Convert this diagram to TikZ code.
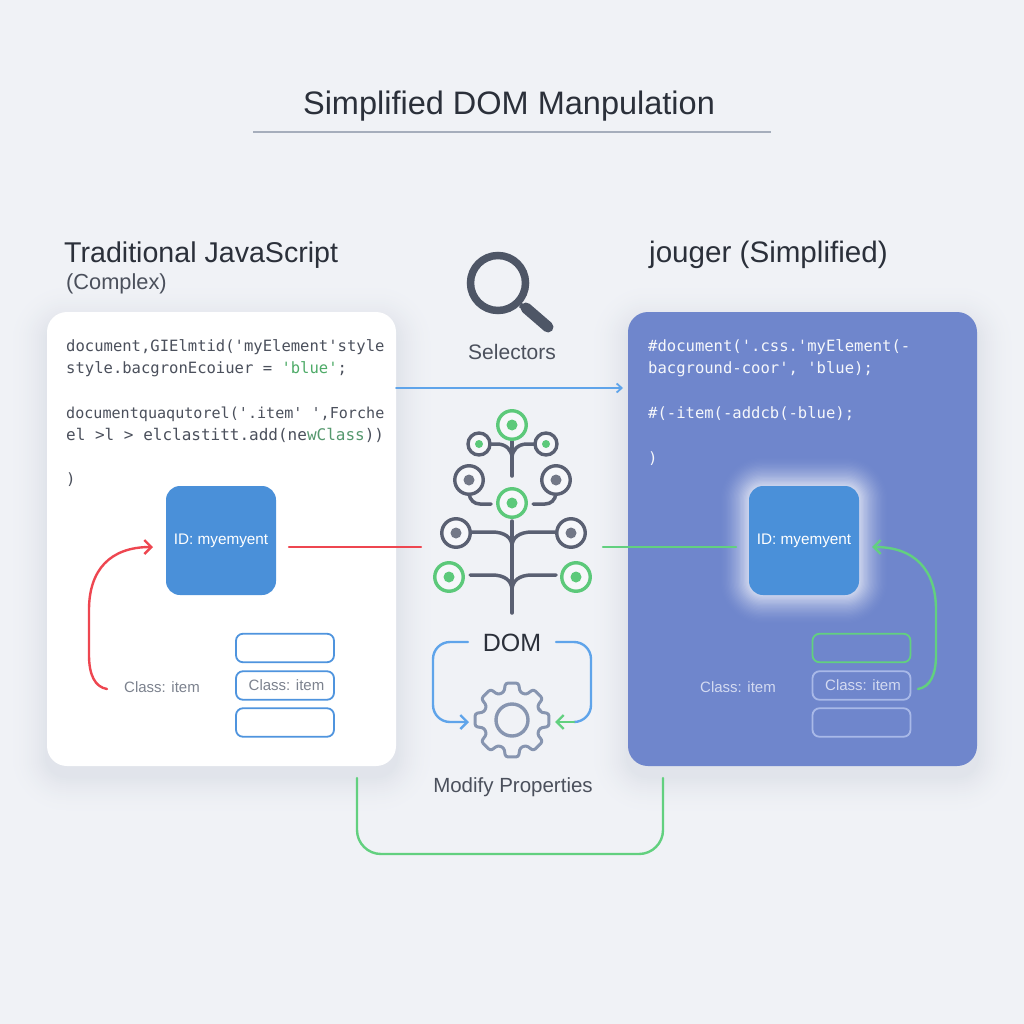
\documentclass[tikz,border=0pt]{standalone}
\usepackage{fontspec}
\setmainfont{Liberation Sans}
\newfontfamily\codefont{DejaVu Sans Mono}
\usetikzlibrary{arrows.meta,calc}
\definecolor{bgc}{HTML}{F0F2F6}
\definecolor{panelblue}{HTML}{6F86CC}
\definecolor{idblue}{HTML}{4A90D9}
\definecolor{inkc}{HTML}{2B303A}
\definecolor{codec}{HTML}{4B505C}
\definecolor{graytext}{HTML}{7C828E}
\definecolor{treegray}{HTML}{5A6072}
\definecolor{treegreen}{HTML}{5CC97A}
\definecolor{linegreen}{HTML}{62D07F}
\definecolor{lineblue}{HTML}{5FA4EA}
\definecolor{linered}{HTML}{EE4650}
\definecolor{gearc}{HTML}{8795B0}
\definecolor{boxblue}{HTML}{4F94DE}
\definecolor{paleline}{HTML}{A9B9E8}
\definecolor{paletext}{HTML}{D3DAF1}
\definecolor{titleline}{HTML}{A6AEBC}
\definecolor{lensc}{HTML}{4E5666}
\definecolor{shadowc}{HTML}{5A6A8C}
\tikzset{
  x=1pt,y=-1pt,
  heading/.style={anchor=base west,inner sep=0pt,text=inkc,font=\fontsize{28.6}{34}\selectfont},
  subheading/.style={anchor=base west,inner sep=0pt,text=codec,font=\fontsize{21.8}{26}\selectfont},
  centerlabel/.style={inner sep=0pt,text=codec,font=\fontsize{21}{25}\selectfont},
  codeline/.style={anchor=base west,inner sep=0pt,text=codec,font=\codefont\fontsize{15.55}{19}\selectfont},
  codewhite/.style={codeline,text=white!93!panelblue},
  idbox/.style={minimum width=110pt,minimum height=109pt,inner sep=0pt,rounded corners=14pt,fill=idblue,text=white,font=\fontsize{15.3}{18}\selectfont},
  itembox/.style={minimum width=98pt,minimum height=28.5pt,inner sep=0pt,rounded corners=7pt,draw=boxblue,line width=1.8pt,fill=white,text=graytext,font=\fontsize{15}{18}\selectfont},
  paleitem/.style={itembox,draw=paleline,fill=none,text=paletext},
  classlabel/.style={inner sep=0pt,text=graytext,font=\fontsize{15}{18}\selectfont},
  ring/.style={circle,inner sep=0pt,draw=#1,line width=3.4pt,fill=bgc!60!white},
  bigring/.style={ring=#1,minimum size=28.5pt},
  smallring/.style={ring=#1,minimum size=22pt},
  dotc/.style={circle,inner sep=0pt,fill=#1,minimum size=11pt},
  smalldot/.style={circle,inner sep=0pt,fill=#1,minimum size=8pt},
  branch/.style={draw=treegray,line width=3.5pt,line cap=round},
  link/.style={line width=2.4pt,line cap=round},
  tip/.style={-{Straight Barb[length=7pt,width=14pt,line width=2.4pt]}}
}
\begin{document}
\begin{tikzpicture}
\useasboundingbox (0,0) rectangle (1024,1024);
\fill[bgc] (0,0) rectangle (1024,1024);
% title
\node[inner sep=0pt,text=inkc,font=\fontsize{32.5}{38}\selectfont] (title) at (509,106) {Simplified DOM Manpulation};
\coordinate (ruleL) at (253,132);
\coordinate (ruleR) at (771,132);
\draw[titleline,line width=1.6pt] (ruleL) -- (ruleR);
% panel shadows: opaque layers, outermost first
\foreach \k in {20,19,...,1}{
  \pgfmathsetmacro{\mixv}{10*((21-\k)/20)^2}
  \colorlet{layerc}{shadowc!\mixv!bgc}
  \fill[layerc,rounded corners=20pt+2*\k] (47-2*\k,322-2*\k) rectangle (396+2*\k,776+2*\k);
  \fill[layerc,rounded corners=20pt+2*\k] (628-2*\k,322-2*\k) rectangle (977+2*\k,776+2*\k);
}
% panels
\node[heading] (hl) at (64,262) {Traditional JavaScript};
\node[subheading] (hl2) at (66,289) {(Complex)};
\node[heading,font=\fontsize{29.6}{34}\selectfont] (hr) at (649,262) {jouger (Simplified)};
\node[inner sep=0pt,minimum width=349pt,minimum height=454pt,rounded corners=20pt,fill=white] (panelL) at (221.5,539) {};
\node[inner sep=0pt,minimum width=349pt,minimum height=454pt,rounded corners=20pt,fill=panelblue] (panelR) at (802.5,539) {};
% code left
\node[codeline] (c1) at (66,351) {document,GIElmtid('myElement'style};
\node[codeline] (c2) at (66,373) {style.bacgronEcoiuer = \textcolor{treegreen!85!black}{'blue'};};
\node[codeline,font=\codefont\fontsize{15.1}{19}\selectfont] (c3) at (66,418) {documentquaqutorel('.item' ',Forche};
\node[codeline,font=\codefont\fontsize{16}{19}\selectfont] (c4) at (66,440) {el >l > elclastitt.add(ne\textcolor{treegreen!60!codec}{wClass}))};
\node[codeline] (c5) at (66,484) {)};
% code right
\node[codewhite] (d1) at (648,351) {\#document('.css.'myElement(-};
\node[codewhite] (d2) at (648,373) {bacground-coor', 'blue);};
\node[codewhite] (d3) at (648,418) {\#(-item(-addcb(-blue);};
\node[codewhite] (d4) at (648,463) {)};
% glow: opaque layers, outermost first
\foreach \k in {22,21,...,1}{
  \pgfmathsetmacro{\mixv}{62*((23-\k)/22)^1.6}
  \colorlet{layerc}{white!\mixv!panelblue}
  \fill[layerc,rounded corners=14pt+1.3*\k] (749-1.3*\k,486-1.3*\k) rectangle (859+1.3*\k,595+1.3*\k);
}
% id boxes
\node[idbox] (idL) at (221,540.5) {\raisebox{-3pt}{ID: myemyent}};
\node[idbox] (idR) at (804,540.5) {\raisebox{-3pt}{ID: myemyent}};
% item boxes
\node[itembox] (l1) at (285,648) {};
\node[itembox] (l2) at (285,685.5) {\hspace{3pt}\raisebox{-1pt}{Class: item}};
\node[itembox] (l3) at (285,722.5) {};
\node[paleitem,draw=linegreen] (r1) at (861.5,648) {};
\node[paleitem] (r2) at (861.5,685.5) {\hspace{3pt}\raisebox{-1pt}{Class: item}};
\node[paleitem] (r3) at (861.5,722.5) {};
\node[classlabel] (cl) at (162,687) {Class: item};
\node[classlabel,text=paletext] (cr) at (738,687) {Class: item};
% connectors
\coordinate (blueA) at (396,388);
\coordinate (blueB) at (623,388);
\draw[lineblue,link,line width=1.8pt,-{Straight Barb[length=5pt,width=9pt,line width=1.8pt]}] (blueA) -- (blueB);
\coordinate (redA) at (289,547);
\coordinate (redB) at (421,547);
\draw[linered,link] (redA) -- (redB);
\coordinate (grA) at (603,547);
\coordinate (grB) at (736,547);
\draw[linegreen,link] (grA) -- (grB);
\coordinate (redS) at (107,689);
\coordinate (redE) at (153,547);
\draw[linered,link,tip] (redS) .. controls (95,687) and (89,675) .. (89,655) -- (89,610) .. controls (89,570) and (110,547) .. (redE);
\coordinate (grS) at (918,689);
\coordinate (grE) at (872,547);
\draw[linegreen,link,tip] (grS) .. controls (930,687) and (936,675) .. (936,655) -- (936,610) .. controls (936,570) and (915,547) .. (grE);
\coordinate (botL) at (357,778);
\coordinate (botR) at (663,778);
\coordinate (botLc) at (357,854);
\coordinate (botRc) at (663,854);
\draw[linegreen,link,rounded corners=24pt] (botL) -- (botLc) -- (botRc) -- (botR);
% magnifier
\node[circle,draw=lensc,line width=7.5pt,minimum size=55pt,inner sep=0pt] (lens) at (498,283) {};
\coordinate (handleA) at (526,308);
\coordinate (handleB) at (548,327);
\draw[lensc,line width=5pt] (lens.south east) -- (handleA);
\draw[lensc,line width=11pt,line cap=round] (handleA) -- (handleB);
\node[centerlabel] (sel) at (512,352) {Selectors};
% tree
\draw[branch] (512,438) -- (512,476);
\draw[branch] (488,444) -- (497,444) .. controls (506,444) and (512,450) .. (512,458);
\draw[branch] (536,444) -- (527,444) .. controls (518,444) and (512,450) .. (512,458);
\draw[branch] (469,494) .. controls (470,500) and (474,504) .. (480,504) -- (491,504);
\draw[branch] (556,494) .. controls (555,500) and (551,504) .. (545,504) -- (533,504);
\draw[branch] (512,521) -- (512,613);
\draw[branch] (471,532) -- (492,532) .. controls (505,532) and (512,538) .. (512,546);
\draw[branch] (556,532) -- (532,532) .. controls (519,532) and (512,538) .. (512,546);
\draw[branch] (470,575) -- (492,575) .. controls (505,575) and (512,581) .. (512,590);
\draw[branch] (556,575) -- (532,575) .. controls (519,575) and (512,581) .. (512,590);
\foreach \nm/\px/\py/\ringc/\dotcol in {a/512/425/treegreen/treegreen, b/512/503/treegreen/treegreen, c/469/480/treegray/treegray!85!white, d/556/480/treegray/treegray!85!white, e/456/533/treegray/treegray!85!white, f/571/533/treegray/treegray!85!white, g/449/577/treegreen/treegreen, h/576/577/treegreen/treegreen}{
  \node[bigring=\ringc] (ring\nm) at (\px,\py) {};
  \node[dotc=\dotcol] (dot\nm) at (\px,\py) {};
}
\foreach \nm/\px/\py in {i/479/444, j/546/444}{
  \node[smallring=treegray] (ring\nm) at (\px,\py) {};
  \node[smalldot=treegreen] (dot\nm) at (\px,\py) {};
}
% DOM and gear
\node[inner sep=0pt,text=inkc,font=\fontsize{25}{30}\selectfont] (dom) at (512,643) {DOM};
\coordinate (gc) at (512,720);
\draw[gearc,line width=3pt,line join=round,rounded corners=2.5pt]
  ($(gc)+(-16:29)$) \foreach \a in {0,45,...,315}{
    -- ($(gc)+(\a-16:29)$) -- ($(gc)+(\a-10:37.5)$) -- ($(gc)+(\a+10:37.5)$) -- ($(gc)+(\a+16:29)$)
  } -- cycle;
\node[circle,draw=gearc,line width=3.4pt,minimum size=32pt,inner sep=0pt] (hub) at (gc) {};
\coordinate (bl) at (468,642);
\coordinate (bl1) at (433,642);
\coordinate (bl2) at (433,722);
\coordinate (gearL) at (469,722);
\draw[lineblue,link,rounded corners=17pt,tip] (bl) -- (bl1) -- (bl2) -- (gearL);
\coordinate (br) at (556,642);
\coordinate (br1) at (591,642);
\coordinate (br2) at (591,722);
\coordinate (brm) at (574,722);
\coordinate (gearR) at (555,722);
\draw[lineblue,link,rounded corners=17pt] (br) -- (br1) -- (br2) -- (brm);
\draw[linegreen,link,tip] (brm) -- (gearR);
\node[centerlabel,font=\fontsize{20.5}{24}\selectfont] (mod) at (513,787) {Modify Properties};
\end{tikzpicture}
\end{document}
